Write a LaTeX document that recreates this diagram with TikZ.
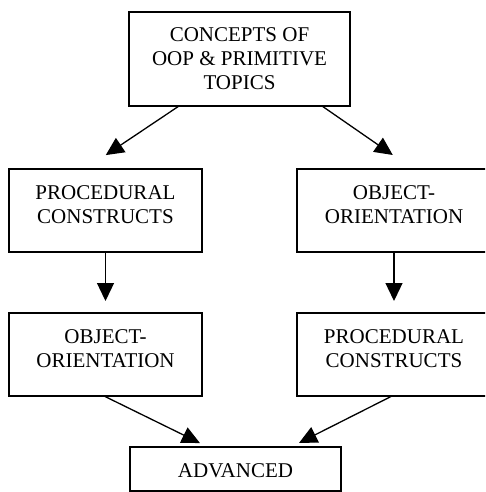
\documentclass[tikz,border=0pt]{standalone}
\usepackage{fontspec}
\setmainfont{Liberation Serif}
\usetikzlibrary{arrows.meta}
\newcommand\boxtext[3]{\parbox[c][#2][t]{#1}{\centering\rule{0pt}{30pt}#3\par}}
\begin{document}
\begin{tikzpicture}[x=1pt,y=-1pt,
  box/.style={draw, line width=1.7pt, inner sep=0pt, outer sep=0pt, anchor=north west,
    font=\fontsize{21}{24}\selectfont},
  arr/.style={line width=1.3pt, -{Triangle[length=18pt,width=17pt]}}]
\useasboundingbox (0,0) rectangle (485,492);
\clip (0,0) rectangle (485,492);
\node[box] (top) at (129,12) {\boxtext{221pt}{94pt}{CONCEPTS OF\\OOP \& PRIMITIVE\\TOPICS}};
\node[box] (p1) at (9,169) {\boxtext{193pt}{83pt}{PROCEDURAL\\CONSTRUCTS}};
\node[box] (o1) at (297,169) {\boxtext{194pt}{83pt}{OBJECT-\\ORIENTATION}};
\node[box] (o2) at (9,313) {\boxtext{193pt}{83pt}{OBJECT-\\ORIENTATION}};
\node[box] (p2) at (297,313) {\boxtext{194pt}{83pt}{PROCEDURAL\\CONSTRUCTS}};
\node[box] (adv) at (130,447) {\boxtext{211pt}{44pt}{ADVANCED}};
\draw[arr, shorten >=25pt] ([xshift=-60.5pt]top.south) -- ([xshift=-20.5pt]p1.north);
\draw[arr, shorten >=24.6pt] ([xshift=82.5pt]top.south) -- ([xshift=19pt]o1.north);
\draw[arr, shorten >=12pt] (p1.south) -- (o2.north);
\draw[arr, shorten >=12pt] (o1.south) -- (p2.north);
\draw[arr, shorten >=9pt] ([xshift=-1.5pt]o2.south) -- ([xshift=-27.5pt]adv.north);
\draw[arr, shorten >=9pt] ([xshift=-2pt]p2.south) -- ([xshift=55.5pt]adv.north);
\end{tikzpicture}
\end{document}
